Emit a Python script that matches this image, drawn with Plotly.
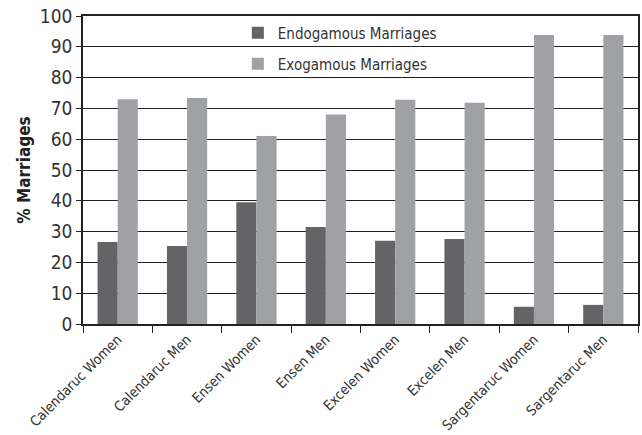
import plotly.graph_objects as go

categories = ["Calendaruc Women", "Calendaruc Men", "Ensen Women", "Ensen Men",
              "Excelen Women", "Excelen Men", "Sargentaruc Women", "Sargentaruc Men"]
endogamous = [26.6, 25.3, 39.5, 31.5, 27.0, 27.6, 5.6, 6.2]
exogamous = [73.0, 73.4, 61.0, 68.0, 72.8, 71.8, 93.8, 93.8]
y_ticks = list(range(0, 101, 10))

FONT = "DejaVu Sans Condensed, Liberation Sans Narrow, sans-serif"

fig = go.Figure()
fig.add_trace(go.Bar(name="Endogamous Marriages", x=categories, y=endogamous,
                     marker=dict(color="#646466", line=dict(width=0)), legend="legend"))
fig.add_trace(go.Bar(name="Exogamous Marriages", x=categories, y=exogamous,
                     marker=dict(color="#A0A1A4", line=dict(width=0)), legend="legend2"))

leg_common = dict(xanchor="left", yanchor="top", bgcolor="rgba(0,0,0,0)",
                  font=dict(size=15, family=FONT, color="#333333"))

fig.update_layout(
    width=642, height=435,
    margin=dict(l=83, r=4, t=16, b=111),
    paper_bgcolor="white", plot_bgcolor="white",
    barmode="group", bargap=0.42, bargroupgap=0,
    font=dict(family=FONT, color="#222222", size=15),
    showlegend=True,
    legend=dict(x=0.279, y=0.998, **leg_common),
    legend2=dict(x=0.279, y=0.898, **leg_common),
    xaxis=dict(showline=True, linecolor="#222222", linewidth=1.5, automargin=False,
               mirror=True,
               ticks="outside", tickson="boundaries", ticklen=7, tickcolor="#222222",
               tickangle=-45, tickfont=dict(size=14, family=FONT, color="#333333")),
    yaxis=dict(range=[0, 100], tickvals=y_ticks, showgrid=True, gridcolor="#222222",
               gridwidth=1.3, showline=True, linecolor="#222222", linewidth=1.5,
               mirror=True, ticks="outside", ticklen=5, tickcolor="#222222",
               automargin=False, ticklabeloverflow="allow",
               tickfont=dict(size=19, family=FONT, color="#333333"), zeroline=False,
               title=dict(text="<b>% Marriages</b>", font=dict(size=17, family=FONT),
                          standoff=5)),
)

# remove the browser's default 8px body margin so the figure fills the window
fig.write_html("out.html", config={"displayModeBar": False},
               post_script="document.body.style.margin='0px';document.body.style.overflow='hidden';")
